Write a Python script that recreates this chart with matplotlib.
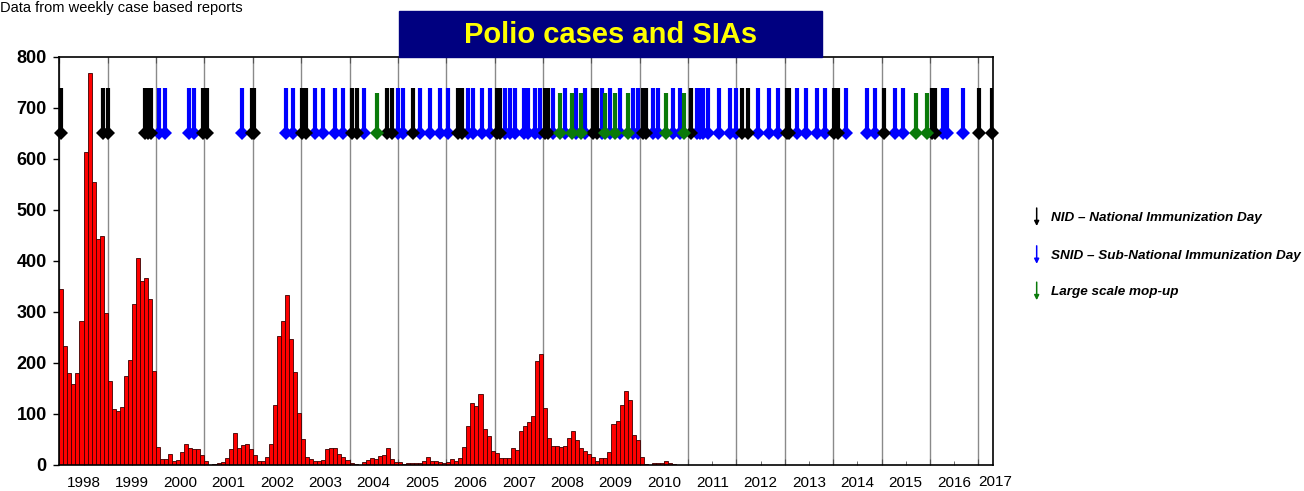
import matplotlib.pyplot as plt
import matplotlib.patches as mpatches
import numpy as np

plt.rcParams["font.family"] = ["Liberation Sans", "DejaVu Sans"]

# monthly polio cases, Jan..Dec
cases_1998 = [346, 233, 181, 159, 181, 282, 613, 768, 554, 444, 448, 297]
cases_1999 = [164, 109, 106, 114, 174, 205, 315, 405, 361, 367, 326, 184]
cases_2000 = [36, 11, 11, 21, 7, 10, 26, 41, 33, 31, 31, 20]
cases_2001 = [8, 0, 2, 3, 6, 13, 31, 63, 33, 39, 42, 31]
cases_2002 = [19, 8, 8, 16, 42, 118, 253, 282, 333, 247, 182, 102]
cases_2003 = [51, 16, 11, 8, 7, 10, 31, 33, 33, 21, 15, 10]
cases_2004 = [3, 1, 0, 6, 10, 13, 12, 18, 20, 34, 11, 6]
cases_2005 = [5, 1, 3, 3, 4, 4, 8, 15, 7, 7, 6, 3]
cases_2006 = [5, 12, 8, 13, 36, 76, 122, 116, 139, 70, 56, 27]
cases_2007 = [24, 14, 14, 14, 33, 30, 66, 77, 84, 96, 204, 218]
cases_2008 = [112, 52, 38, 38, 35, 37, 52, 66, 48, 33, 27, 21]
cases_2009 = [15, 7, 14, 13, 25, 81, 87, 117, 146, 128, 59, 49]
cases_2010 = [15, 2, 0, 3, 3, 3, 7, 4, 1, 0, 0, 0]

years = list(range(1998, 2018))

# SIA dates (decimal years)
nid = [1998.04, 1998.91, 1999.01, 1999.77, 1999.84, 1999.90, 2000.98, 2001.05,
       2001.98, 2002.03, 2003.01, 2003.11, 2004.05, 2004.15, 2004.77, 2004.87,
       2005.32, 2006.25, 2006.32, 2007.04, 2007.11, 2008.04, 2008.11, 2009.04,
       2009.11, 2010.07, 2010.14, 2011.06, 2012.11, 2012.24, 2013.04, 2013.09,
       2014.02, 2014.11, 2015.05, 2016.04, 2016.10, 2017.02, 2017.28]
snid = [2000.06, 2000.18, 2000.69, 2000.79, 2001.77, 2002.68, 2002.84, 2003.29,
        2003.46, 2003.70, 2003.86, 2004.30, 2005.01, 2005.11, 2005.46, 2005.66,
        2005.87, 2006.04, 2006.46, 2006.56, 2006.73, 2006.90, 2007.21, 2007.32,
        2007.42, 2007.60, 2007.70, 2007.83, 2007.94, 2008.21, 2008.45, 2008.68,
        2008.87, 2009.21, 2009.39, 2009.59, 2009.87, 2009.97, 2010.28, 2010.38,
        2010.69, 2010.83, 2011.18, 2011.25, 2011.31, 2011.42, 2011.64, 2011.87,
        2012.00, 2012.45, 2012.68, 2012.85, 2013.26, 2013.44, 2013.67, 2013.84,
        2014.27, 2014.69, 2014.86, 2015.28, 2015.44, 2016.28, 2016.35, 2016.69]
mopup = [2004.56, 2008.35, 2008.59, 2008.78, 2009.28, 2009.49, 2009.76,
         2010.54, 2010.91, 2015.71, 2015.93]

cases = (cases_1998 + cases_1999 + cases_2000 + cases_2001 + cases_2002 +
         cases_2003 + cases_2004 + cases_2005 + cases_2006 + cases_2007 +
         cases_2008 + cases_2009 + cases_2010)
months = 1998 + np.arange(len(cases)) / 12

fig = plt.figure(figsize=(13.04, 4.91), dpi=100)
ax = fig.add_axes([0.0455, 0.053, 0.7162, 0.831])

ax.vlines(years, 0, 800, color="#8a8a8a", lw=1, zorder=1)
ax.bar(months, cases, width=1 / 12, align="edge", color="#ff0000",
       edgecolor="#3a0000", linewidth=0.6, zorder=2)

for dates, col, top in [(snid, "#0000ff", 740), (nid, "#000000", 740),
                        (mopup, "#0a7a0a", 730)]:
    ax.vlines(dates, 655, top, color=col, lw=3, zorder=3)
    ax.plot(dates, [650] * len(dates), "D", color=col, ms=7.2, mew=0,
            zorder=3, clip_on=False)

ax.set_xlim(1998, 2017.31)
ax.set_ylim(0, 800)
ax.set_yticks(range(0, 801, 100))
ax.set_yticklabels([str(v) for v in range(0, 801, 100)], fontsize=13,
                   fontweight="bold")
ax.tick_params(axis="y", direction="out", length=4, width=1, pad=5)

ax.set_xticks(years)
ax.set_xticklabels([])
ax.set_xticks([y + 0.5 for y in years[:-1]], minor=True)
ax.set_xticklabels([str(y) for y in years[:-1]], minor=True, fontsize=11)
ax.tick_params(axis="x", which="major", direction="in", length=4,
               top=True, color="#555555")
ax.tick_params(axis="x", which="minor", direction="in", length=3, pad=8,
               color="#555555")
ax.text(2017.0, -33, "2017", fontsize=11, ha="left", va="center")

for s in ax.spines.values():
    s.set_linewidth(1.2)

# title box
fig.patches.append(mpatches.Rectangle((0.306, 0.884), 0.324, 0.094,
                                      transform=fig.transFigure,
                                      color="#000080", zorder=5))
fig.text(0.468, 0.929, "Polio cases and SIAs", color="#ffff00", fontsize=21,
         fontweight="bold", ha="center", va="center", zorder=6)
fig.text(0.0, 0.983, "Data from weekly case based reports", fontsize=10.5,
         ha="left", va="center")

# legend
legend = [("NID \u2013 National Immunization Day", "#000000", 0.556),
          ("SNID \u2013 Sub-National Immunization Day", "#0000ff", 0.479),
          ("Large scale mop-up", "#0a7a0a", 0.405)]
for label, col, yy in legend:
    fig.text(0.806, yy, label, fontsize=9.7, style="italic",
             fontweight="bold", ha="left", va="center")
    ax.annotate("", xy=(0.795, yy - 0.022), xytext=(0.795, yy + 0.026),
                xycoords="figure fraction", textcoords="figure fraction",
                arrowprops=dict(arrowstyle="-|>", color=col, lw=1.1,
                                mutation_scale=7))

plt.savefig("out.png", dpi=100)
